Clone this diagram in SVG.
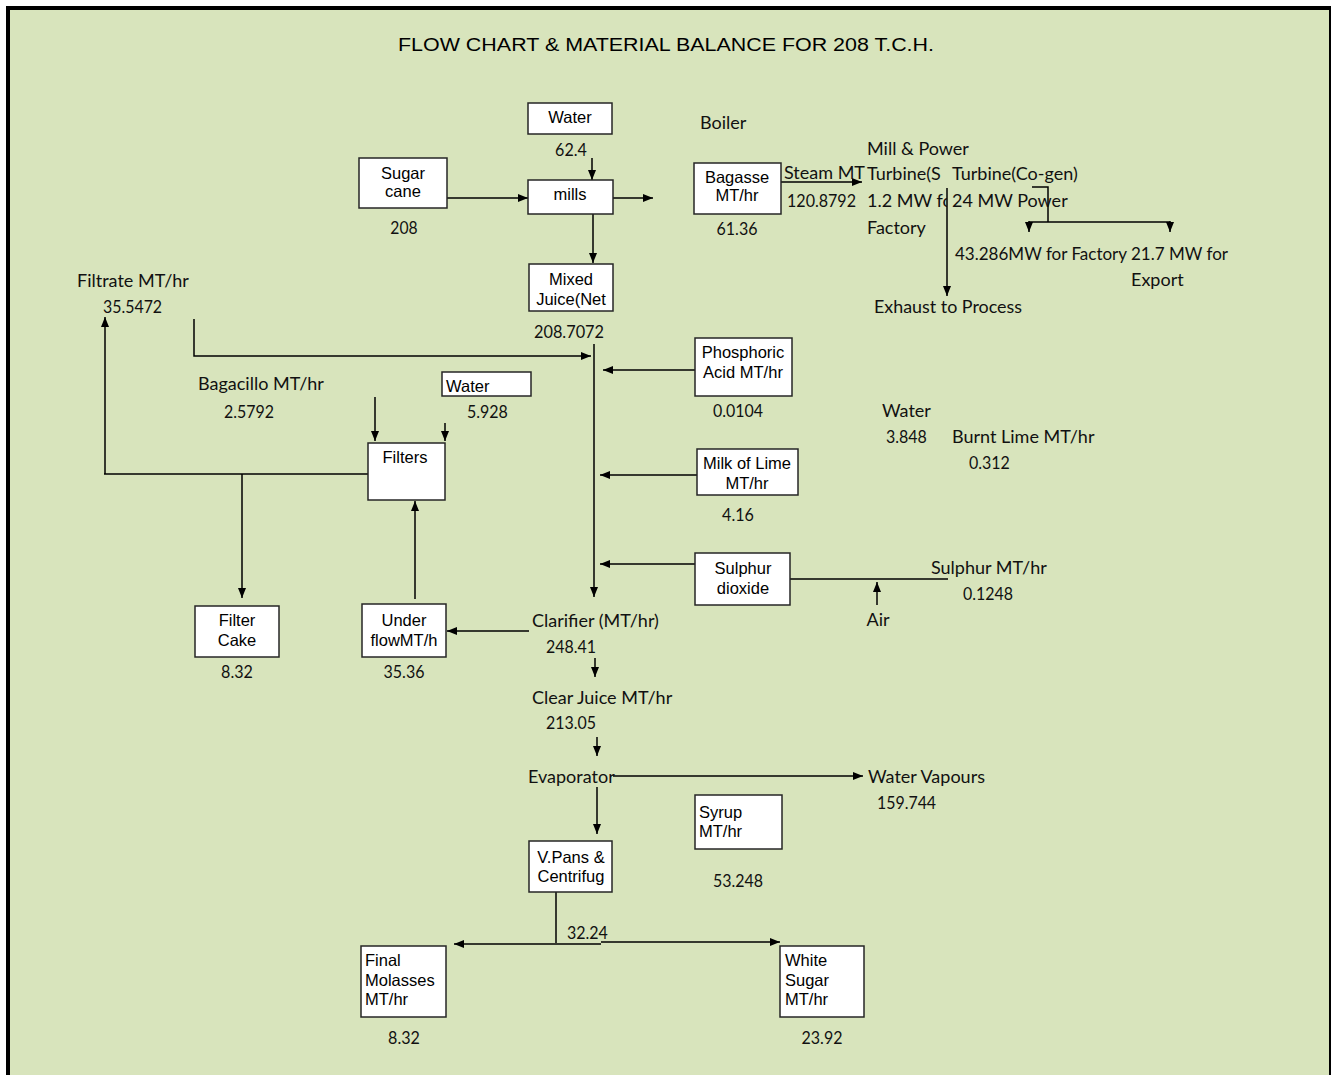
<svg xmlns="http://www.w3.org/2000/svg" width="1331" height="1075" viewBox="0 0 1331 1075">
  <defs>
    <marker id="ah" viewBox="0 0 10 8" refX="10" refY="4" markerWidth="10" markerHeight="8" markerUnits="userSpaceOnUse" orient="auto">
      <path d="M0,0 L10,4 L0,8 z" fill="#000"/>
    </marker>
    <clipPath id="clip-steam"><rect x="780" y="160" width="86" height="30"/></clipPath>
    <clipPath id="clip-turb"><rect x="860" y="160" width="87" height="60"/></clipPath>
  </defs>
  <style>
    .bx{fill:#fff;stroke:#262626;stroke-width:1.5}
    .bt{font-family:"Liberation Sans",Arial,sans-serif;font-size:16.5px;fill:#000}
    .c{text-anchor:middle}
    .lb{font-family:Lato,"Liberation Sans",sans-serif;font-size:18px;fill:#111}
    .ln{fill:none;stroke:#000;stroke-width:1.5}
    .ar{marker-end:url(#ah)}
  </style>

  <!-- sheet background and frame -->
  <rect x="0" y="0" width="1331" height="1075" fill="#fff"/>
  <rect x="8" y="8" width="1323" height="1080" fill="#d8e4bc" stroke="#000" stroke-width="4"/>

  <text x="666" y="51" class="bt c" style="font-size:18px" textLength="536" lengthAdjust="spacingAndGlyphs">FLOW CHART &amp; MATERIAL BALANCE FOR 208 T.C.H.</text>

  <!-- connectors -->
  <g id="connectors">
    <path class="ln ar" d="M447,198 H528"/>
    <path class="ln ar" d="M592,158 V180"/>
    <path class="ln ar" d="M613,198 H653"/>
    <path class="ln ar" d="M593,214 V263"/>
    <path class="ln ar" d="M781,182 H862"/>
    <path class="ln ar" d="M947,188 V296"/>
    <path class="ln" d="M1032,187 H1048 V222"/>
    <path class="ln" d="M1029,222 H1170"/>
    <path class="ln ar" d="M1029,221 V232"/>
    <path class="ln ar" d="M1170,221 V232"/>
    <path class="ln ar" d="M105,474 V317"/>
    <path class="ln ar" d="M194,319 V356 H591"/>
    <path class="ln ar" d="M594,344 V597"/>
    <path class="ln ar" d="M695,370 H603"/>
    <path class="ln ar" d="M697,475 H600"/>
    <path class="ln ar" d="M695,564 H600"/>
    <path class="ln" d="M790,579 H948"/>
    <path class="ln ar" d="M877,605 V582"/>
    <path class="ln ar" d="M375,397 V441"/>
    <path class="ln ar" d="M445,423 V441"/>
    <path class="ln" d="M368,474 H104"/>
    <path class="ln ar" d="M242,474 V598"/>
    <path class="ln ar" d="M415,599 V501"/>
    <path class="ln ar" d="M529,631 H447"/>
    <path class="ln ar" d="M595,658 V677"/>
    <path class="ln ar" d="M597,737 V756"/>
    <path class="ln ar" d="M613,776 H863"/>
    <path class="ln ar" d="M597,787 V834"/>
    <path class="ln" d="M556,892 V943"/>
    <path class="ln ar" d="M601,944 H454"/>
    <path class="ln ar" d="M601,942 H780"/>
  </g>

  <!-- cane and milling -->
  <g id="water-mills">
    <rect class="bx" x="528" y="103" width="84" height="31"/>
    <text class="bt c" x="570" y="123">Water</text>
  </g>
  <text class="lb c" x="571" y="156" textLength="31.8" lengthAdjust="spacingAndGlyphs">62.4</text>
  <g id="sugar-cane">
    <rect class="bx" x="359" y="158" width="88" height="50"/>
    <text class="bt c" x="403" y="179">Sugar</text>
    <text class="bt c" x="403" y="197">cane</text>
  </g>
  <text class="lb c" x="404" y="234" textLength="27.3" lengthAdjust="spacingAndGlyphs">208</text>
  <g id="mills">
    <rect class="bx" x="528" y="180" width="85" height="34"/>
    <text class="bt c" x="570" y="200">mills</text>
  </g>
  <g id="mixed-juice">
    <rect class="bx" x="529" y="264" width="84" height="47"/>
    <text class="bt c" x="571" y="285">Mixed</text>
    <text class="bt c" x="571" y="305">Juice(Net</text>
  </g>
  <text class="lb c" x="569" y="338" textLength="70" lengthAdjust="spacingAndGlyphs">208.7072</text>

  <!-- boiler and power -->
  <text class="lb" x="700" y="129">Boiler</text>
  <g id="bagasse">
    <rect class="bx" x="694" y="163" width="87" height="51"/>
    <text class="bt c" x="737" y="183">Bagasse</text>
    <text class="bt c" x="737" y="201">MT/hr</text>
  </g>
  <text class="lb c" x="737" y="235" textLength="40.9" lengthAdjust="spacingAndGlyphs">61.36</text>
  <text class="lb" x="784" y="179" clip-path="url(#clip-steam)">Steam MT</text>
  <text class="lb" x="787" y="207" textLength="69" lengthAdjust="spacingAndGlyphs">120.8792</text>
  <text class="lb" x="867" y="155">Mill &amp; Power</text>
  <g clip-path="url(#clip-turb)">
    <text class="lb" x="867" y="180">Turbine(S</text>
    <text class="lb" x="867" y="207">1.2 MW fo</text>
  </g>
  <text class="lb" x="867" y="234">Factory</text>
  <text class="lb" x="952" y="180">Turbine(Co-gen)</text>
  <text class="lb" x="952" y="207">24 MW Power</text>
  <text class="lb" x="955" y="260" textLength="273" lengthAdjust="spacingAndGlyphs">43.286MW for Factory 21.7 MW for</text>
  <text class="lb" x="1131" y="286">Export</text>
  <text class="lb" x="874" y="313" textLength="148" lengthAdjust="spacingAndGlyphs">Exhaust to Process</text>

  <!-- filtration -->
  <text class="lb" x="77" y="287">Filtrate MT/hr</text>
  <text class="lb" x="103" y="313" textLength="59.1" lengthAdjust="spacingAndGlyphs">35.5472</text>
  <text class="lb" x="198" y="390">Bagacillo MT/hr</text>
  <text class="lb" x="224" y="418" textLength="50" lengthAdjust="spacingAndGlyphs">2.5792</text>
  <g id="water-filters">
    <rect class="bx" x="442" y="372" width="89" height="24"/>
    <text class="bt" x="446" y="392">Water</text>
  </g>
  <text class="lb" x="467" y="418" textLength="40.9" lengthAdjust="spacingAndGlyphs">5.928</text>
  <g id="filters">
    <rect class="bx" x="368" y="443" width="77" height="57"/>
    <text class="bt c" x="405" y="463">Filters</text>
  </g>
  <g id="filter-cake">
    <rect class="bx" x="195" y="606" width="84" height="51"/>
    <text class="bt c" x="237" y="626">Filter</text>
    <text class="bt c" x="237" y="646">Cake</text>
  </g>
  <text class="lb c" x="237" y="678" textLength="31.8" lengthAdjust="spacingAndGlyphs">8.32</text>
  <g id="underflow">
    <rect class="bx" x="362" y="604" width="84" height="53"/>
    <text class="bt c" x="404" y="626">Under</text>
    <text class="bt c" x="404" y="646">flowMT/h</text>
  </g>
  <text class="lb c" x="404" y="678" textLength="40.9" lengthAdjust="spacingAndGlyphs">35.36</text>

  <!-- juice treatment -->
  <g id="phosphoric-acid">
    <rect class="bx" x="695" y="338" width="97" height="58"/>
    <text class="bt c" x="743" y="358">Phosphoric</text>
    <text class="bt c" x="743" y="378">Acid MT/hr</text>
  </g>
  <text class="lb c" x="738" y="417" textLength="50" lengthAdjust="spacingAndGlyphs">0.0104</text>
  <text class="lb" x="882" y="417">Water</text>
  <text class="lb" x="886" y="443" textLength="40.9" lengthAdjust="spacingAndGlyphs">3.848</text>
  <text class="lb" x="952" y="443">Burnt Lime MT/hr</text>
  <text class="lb" x="969" y="469" textLength="40.9" lengthAdjust="spacingAndGlyphs">0.312</text>
  <g id="milk-of-lime">
    <rect class="bx" x="697" y="449" width="101" height="46"/>
    <text class="bt c" x="747" y="469">Milk of Lime</text>
    <text class="bt c" x="747" y="489">MT/hr</text>
  </g>
  <text class="lb c" x="738" y="521" textLength="31.8" lengthAdjust="spacingAndGlyphs">4.16</text>
  <g id="sulphur-dioxide">
    <rect class="bx" x="695" y="553" width="95" height="52"/>
    <text class="bt c" x="743" y="574">Sulphur</text>
    <text class="bt c" x="743" y="594">dioxide</text>
  </g>
  <text class="lb" x="931" y="574">Sulphur MT/hr</text>
  <text class="lb" x="963" y="600" textLength="50" lengthAdjust="spacingAndGlyphs">0.1248</text>
  <text class="lb c" x="878" y="626">Air</text>

  <!-- clarification and evaporation -->
  <text class="lb" x="532" y="627">Clarifier (MT/hr)</text>
  <text class="lb" x="546" y="653" textLength="50" lengthAdjust="spacingAndGlyphs">248.41</text>
  <text class="lb" x="532" y="704">Clear Juice MT/hr</text>
  <text class="lb" x="546" y="729" textLength="50" lengthAdjust="spacingAndGlyphs">213.05</text>
  <text class="lb" x="528" y="783">Evaporator</text>
  <text class="lb" x="868" y="783">Water Vapours</text>
  <text class="lb" x="877" y="809" textLength="59.1" lengthAdjust="spacingAndGlyphs">159.744</text>
  <g id="syrup">
    <rect class="bx" x="695" y="795" width="87" height="54"/>
    <text class="bt" x="699" y="818">Syrup</text>
    <text class="bt" x="699" y="837">MT/hr</text>
  </g>
  <text class="lb c" x="738" y="887" textLength="50" lengthAdjust="spacingAndGlyphs">53.248</text>
  <g id="vacuum-pans">
    <rect class="bx" x="529" y="841" width="83" height="51"/>
    <text class="bt c" x="571" y="863">V.Pans &amp;</text>
    <text class="bt c" x="571" y="882">Centrifug</text>
  </g>
  <text class="lb" x="567" y="939" textLength="40.9" lengthAdjust="spacingAndGlyphs">32.24</text>

  <!-- products -->
  <g id="final-molasses">
    <rect class="bx" x="361" y="946" width="85" height="71"/>
    <text class="bt" x="365" y="966">Final</text>
    <text class="bt" x="365" y="986">Molasses</text>
    <text class="bt" x="365" y="1005">MT/hr</text>
  </g>
  <text class="lb c" x="404" y="1044" textLength="31.8" lengthAdjust="spacingAndGlyphs">8.32</text>
  <g id="white-sugar">
    <rect class="bx" x="780" y="946" width="84" height="71"/>
    <text class="bt" x="785" y="966">White</text>
    <text class="bt" x="785" y="986">Sugar</text>
    <text class="bt" x="785" y="1005">MT/hr</text>
  </g>
  <text class="lb c" x="822" y="1044" textLength="40.9" lengthAdjust="spacingAndGlyphs">23.92</text>
</svg>
